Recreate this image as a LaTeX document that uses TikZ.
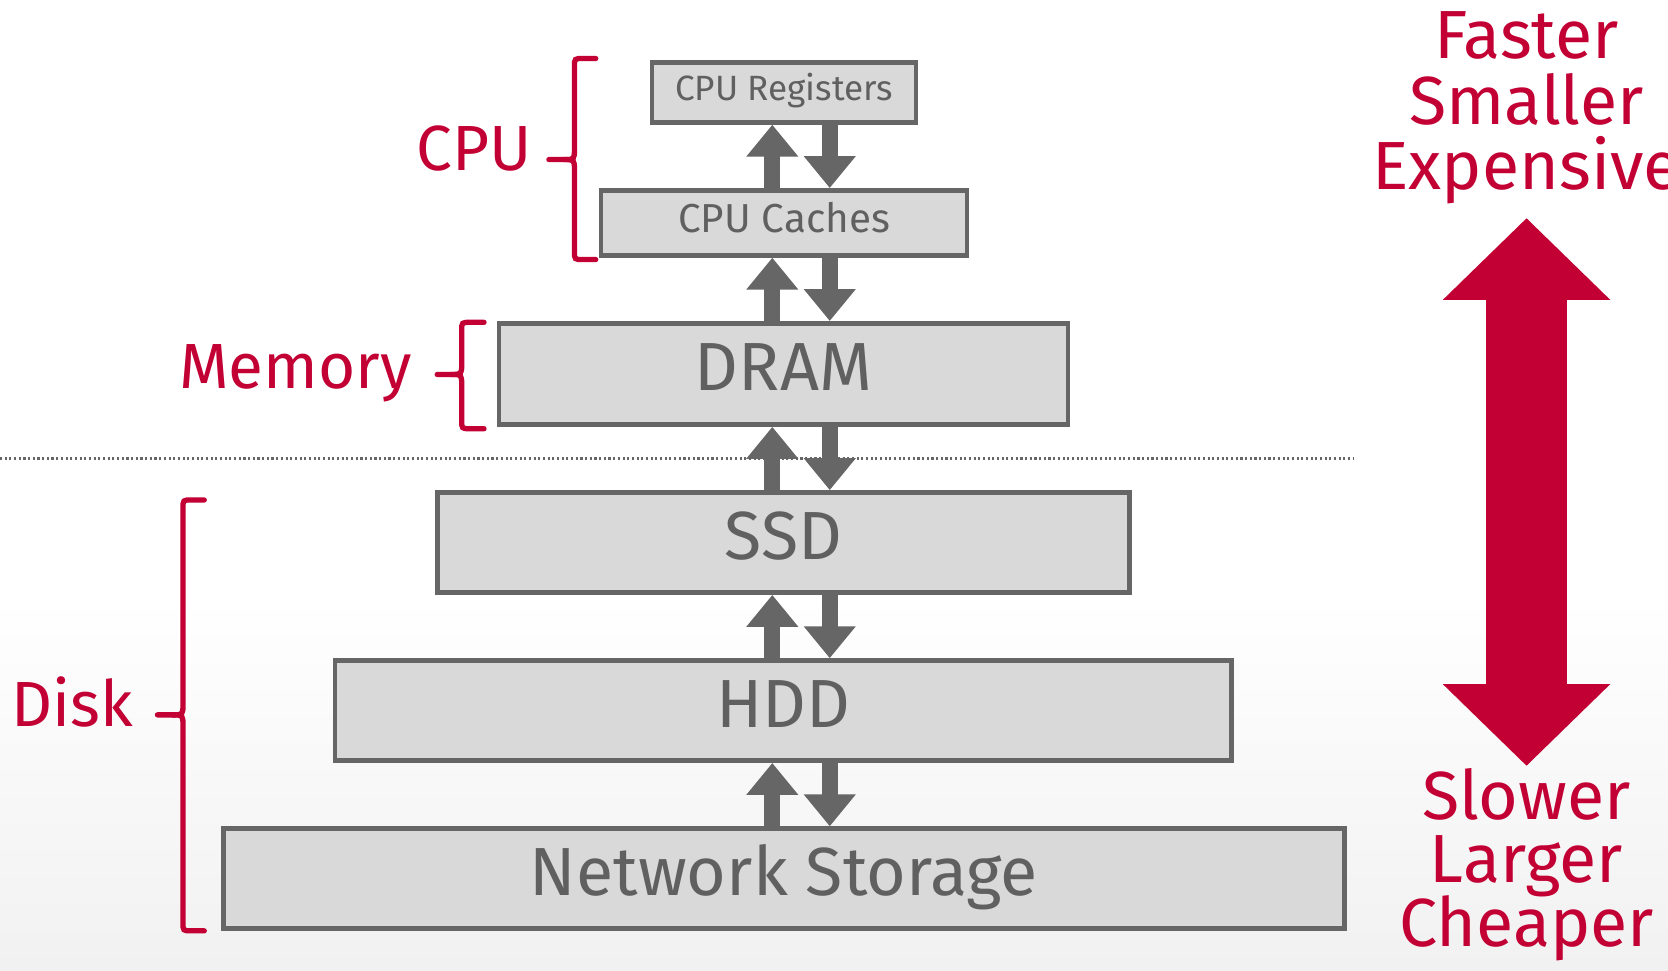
\documentclass[tikz,border=0pt]{standalone}
\usepackage{fontspec}
\setmainfont{Fira Sans}
\usetikzlibrary{arrows.meta}
\definecolor{hred}{RGB}{194,0,52}
\definecolor{boxline}{RGB}{102,102,102}
\definecolor{boxfill}{RGB}{217,217,217}
\definecolor{boxtext}{RGB}{96,96,96}
\definecolor{bgbot}{RGB}{241,241,241}
\tikzset{
  membox/.style={draw=boxline, fill=boxfill, line width=4.5pt, inner sep=0pt,
    text=boxtext},
  bigtxt/.style={font=\fontsize{64}{64}\selectfont, text height=45pt, text depth=14pt},
  redlabel/.style={text=hred, inner sep=0pt, font=\fontsize{60}{60}\selectfont},
  sidetxt/.style={text=hred, inner sep=0pt, anchor=base, font=\fontsize{64}{64}\selectfont},
  brace/.style={draw=hred, line width=5pt, line cap=round},
  garrow/.style={draw=boxline, line width=15pt, -{Triangle[width=47pt,length=30pt]}},
  redarrow/.style={draw=hred, line width=76pt,
    {Triangle[width=153pt,length=77pt]}-{Triangle[width=153pt,length=77pt]}},
}
\begin{document}
\begin{tikzpicture}[x=1pt,y=-1pt]
\useasboundingbox (0,0) rectangle (1568,912);
\fill[white] (0,0) rectangle (1568,912);
\shade[top color=white, bottom color=bgbot] (0,560) rectangle (1568,912);

% dotted separator
\coordinate (sepL) at (0,431);
\coordinate (sepR) at (1273,431);
\draw[boxline, line width=2pt, dash pattern=on 2pt off 2.4pt] (sepL) -- (sepR);

% boxes
\node[membox, minimum width=248pt, minimum height=56pt, font=\fontsize{33}{33}\selectfont, text height=23pt, text depth=8pt] (reg) at (737,87) {CPU Registers};
\node[membox, minimum width=344pt, minimum height=61pt, font=\fontsize{38}{38}\selectfont, text height=27pt, text depth=9pt] (cach) at (737,209.5) {CPU Caches};
\node[membox, bigtxt, minimum width=535pt, minimum height=95pt] (dram) at (736.5,351.5) {DRAM};
\node[membox, bigtxt, minimum width=651pt, minimum height=94pt] (ssd) at (736.5,510) {SSD};
\node[membox, bigtxt, minimum width=843pt, minimum height=94pt] (hdd) at (736.5,668) {HDD};
\node[membox, bigtxt, minimum width=1054pt, minimum height=94pt] (net) at (737,826) {Network Storage};

% arrow columns
\coordinate (ux) at (726,0);
\coordinate (dx) at (780,0);
\foreach \a/\b in {reg/cach, cach/dram, dram/ssd, ssd/hdd, hdd/net}{
  \draw[garrow] (\b.north -| ux) -- (\a.south -| ux);
  \draw[garrow] (\a.south -| dx) -- (\b.north -| dx);
}

% left labels and braces
\node[redlabel, anchor=base east] (lcpu) at (500,160) {CPU};
\node[redlabel, anchor=base east] (lmem) at (387,365) {Memory};
\node[redlabel, anchor=base east] (ldisk) at (125,683) {Disk};

\newcommand{\mybrace}[6]{% xend, xv, xtip, ytop, ymid, ybot
  \draw[brace] (#1,#4) -- ({#2+8},#4) .. controls (#2,#4) .. (#2,{#4+8})
    -- (#2,{#5-10}) .. controls (#2,#5) .. ({#2-10},#5) -- (#3,#5);
  \draw[brace] ({#2-10},#5) .. controls (#2,#5) .. (#2,{#5+10})
    -- (#2,{#6-8}) .. controls (#2,#6) .. ({#2+8},#6) -- (#1,#6);
}
\mybrace{560}{540}{516}{55}{150}{244}
\mybrace{455}{434}{411}{303}{352}{403}
\mybrace{192}{172}{148}{470}{672}{875}

% right side
\node[sidetxt] (f1) at (1435,55) {Faster};
\node[sidetxt] (f2) at (1435,117) {Smaller};
\node[sidetxt] (f3) at (1435,178) {Expensive};
\coordinate (atop) at (1435,205);
\coordinate (abot) at (1435,720);
\draw[redarrow] (atop) -- (abot);
\node[sidetxt] (s1) at (1435,770) {Slower};
\node[sidetxt] (s2) at (1435,830) {Larger};
\node[sidetxt] (s3) at (1435,890) {Cheaper};
\end{tikzpicture}
\end{document}
